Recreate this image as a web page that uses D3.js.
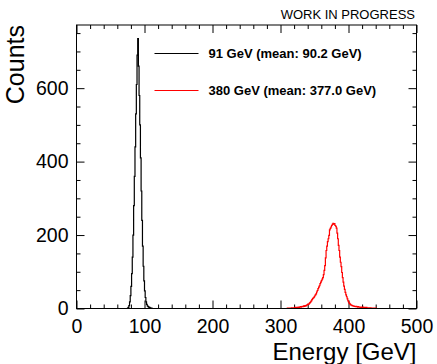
<!DOCTYPE html>
<html>
<head>
<meta charset="utf-8">
<script src="https://cdn.jsdelivr.net/npm/d3@7"></script>
<style>
  html, body { margin: 0; padding: 0; background: #fff; }
  svg { display: block; font-family: "Liberation Sans", Arial, Helvetica, sans-serif; }
</style>
</head>
<body>
<svg id="chart" width="437" height="364"></svg>
<script>
// 1 GeV bins, 0..500 GeV. Only non-empty stretches listed; everything else is 0.
const binWidth = 1;
const nBins = 500;

const blackStart = 74;   // 91 GeV sample
const blackCounts = [
    0, 1, 3, 8, 18, 35, 60, 95, 140, 200,
    280, 360, 440, 530, 610, 690, 735, 660, 580, 500,
    410, 320, 240, 170, 115, 75, 48, 30, 18, 11,
    7, 5, 4, 3, 2, 1, 1
];

const redStart = 310;    // 380 GeV sample
const redCounts = [
    1, 0, 1, 1, 0, 1, 2, 1, 2, 1,
    2, 3, 2, 3, 2, 3, 4, 3, 4, 5,
    4, 5, 6, 5, 7, 6, 8, 7, 9, 10,
    12, 11, 14, 16, 18, 21, 24, 27, 29, 31,
    34, 37, 40, 45, 49, 54, 58, 62, 68, 72,
    76, 80, 84, 92, 104, 117, 138, 158, 170, 182,
    190, 199, 214, 218, 222, 226, 229, 232, 230, 231,
    226, 224, 219, 205, 190, 172, 158, 140, 126, 114,
    98, 84, 72, 61, 52, 44, 37, 32, 26, 21,
    17, 14, 12, 10, 9, 8, 7, 7, 6, 6,
    5, 6, 5, 4, 5, 4, 4, 3, 4, 3,
    3, 4, 3, 2, 3, 2, 3, 2, 2, 1,
    2, 1, 2, 1, 1, 1, 0, 1, 1, 0, 1
];

const seriesNames  = ["91 GeV (mean: 90.2 GeV)", "380 GeV (mean: 377.0 GeV)"];
const seriesColors = ["#000000", "#ff0000"];
const xMajor = [0, 100, 200, 300, 400, 500];
const yMajor = [0, 200, 400, 600];
const yMax = 772;

function fullHist(start, counts) {
    const arr = new Array(nBins).fill(0);
    counts.forEach((c, i) => { arr[start + i] = c; });
    const pts = arr.map((c, i) => ({ e: i * binWidth, c }));
    pts.push({ e: nBins * binWidth, c: arr[nBins - 1] });
    return pts;
}

const hists = [fullHist(blackStart, blackCounts), fullHist(redStart, redCounts)];

const W = 437, H = 364;
const m = { top: 25, right: 20.5, bottom: 55.5, left: 76.5 };
const w = W - m.left - m.right;
const h = H - m.top - m.bottom;

const svg = d3.select("#chart");
const g = svg.append("g").attr("transform", `translate(${m.left},${m.top})`);

const x = d3.scaleLinear().domain([0, 500]).range([0, w]);
const y = d3.scaleLinear().domain([0, yMax]).range([h, 0]);

const xMinor = d3.range(0, 501, 20).filter(v => !xMajor.includes(v));
const yMinor = d3.range(0, yMax, 50).filter(v => !yMajor.includes(v));

const style = sel => sel
    .call(s => s.select(".domain").remove())
    .call(s => s.selectAll("line").attr("stroke", "#000").attr("stroke-width", 1));

// ticks on all four sides, pointing inwards
g.append("g").attr("transform", `translate(0,${h})`)
    .call(d3.axisBottom(x).tickValues(xMajor).tickSize(-8).tickPadding(11).tickFormat(d3.format("d")))
    .call(style)
    .call(s => s.selectAll("text").attr("fill", "#000").attr("font-size", 19.5));
g.append("g").attr("transform", `translate(0,${h})`)
    .call(d3.axisBottom(x).tickValues(xMinor).tickSize(-4).tickFormat(""))
    .call(style);
g.append("g")
    .call(d3.axisTop(x).tickValues(xMajor).tickSize(-8).tickFormat(""))
    .call(style);
g.append("g")
    .call(d3.axisTop(x).tickValues(xMinor).tickSize(-4).tickFormat(""))
    .call(style);

g.append("g")
    .call(d3.axisLeft(y).tickValues(yMajor).tickSize(-8).tickPadding(8).tickFormat(d3.format("d")))
    .call(style)
    .call(s => s.selectAll("text").attr("fill", "#000").attr("font-size", 19.5));
g.append("g")
    .call(d3.axisLeft(y).tickValues(yMinor).tickSize(-4).tickFormat(""))
    .call(style);
g.append("g").attr("transform", `translate(${w},0)`)
    .call(d3.axisRight(y).tickValues(yMajor).tickSize(-8).tickFormat(""))
    .call(style);
g.append("g").attr("transform", `translate(${w},0)`)
    .call(d3.axisRight(y).tickValues(yMinor).tickSize(-4).tickFormat(""))
    .call(style);

const line = d3.line()
    .x(d => x(d.e))
    .y(d => y(d.c))
    .curve(d3.curveStepAfter);

hists.forEach((hist, i) => {
    g.append("path")
        .datum(hist)
        .attr("fill", "none")
        .attr("stroke", seriesColors[i])
        .attr("stroke-width", 1.2)
        .attr("d", line);
});

// frame
g.append("rect")
    .attr("x", 0).attr("y", 0).attr("width", w).attr("height", h)
    .attr("fill", "none").attr("stroke", "#000").attr("stroke-width", 1);

// legend
const legend = g.append("g");
seriesNames.forEach((name, i) => {
    const ly = 28.5 + i * 37;
    legend.append("line")
        .attr("x1", 78).attr("x2", 122).attr("y1", ly).attr("y2", ly)
        .attr("stroke", seriesColors[i]).attr("stroke-width", 1.2);
    legend.append("text")
        .attr("x", 132).attr("y", ly + 4.5)
        .attr("font-size", 13).attr("font-weight", "bold").attr("fill", "#000")
        .text(name);
});

// axis titles
svg.append("text")
    .attr("x", m.left + w).attr("y", 359.5)
    .attr("text-anchor", "end").attr("font-size", 24).attr("fill", "#000")
    .text("Energy [GeV]");
svg.append("text")
    .attr("transform", `translate(24,${m.top}) rotate(-90)`)
    .attr("text-anchor", "end").attr("font-size", 25).attr("fill", "#000")
    .text("Counts");

svg.append("text")
    .attr("x", 415).attr("y", 18.5)
    .attr("text-anchor", "end").attr("font-size", 13).attr("fill", "#000")
    .text("WORK IN PROGRESS");
</script>
</body>
</html>
